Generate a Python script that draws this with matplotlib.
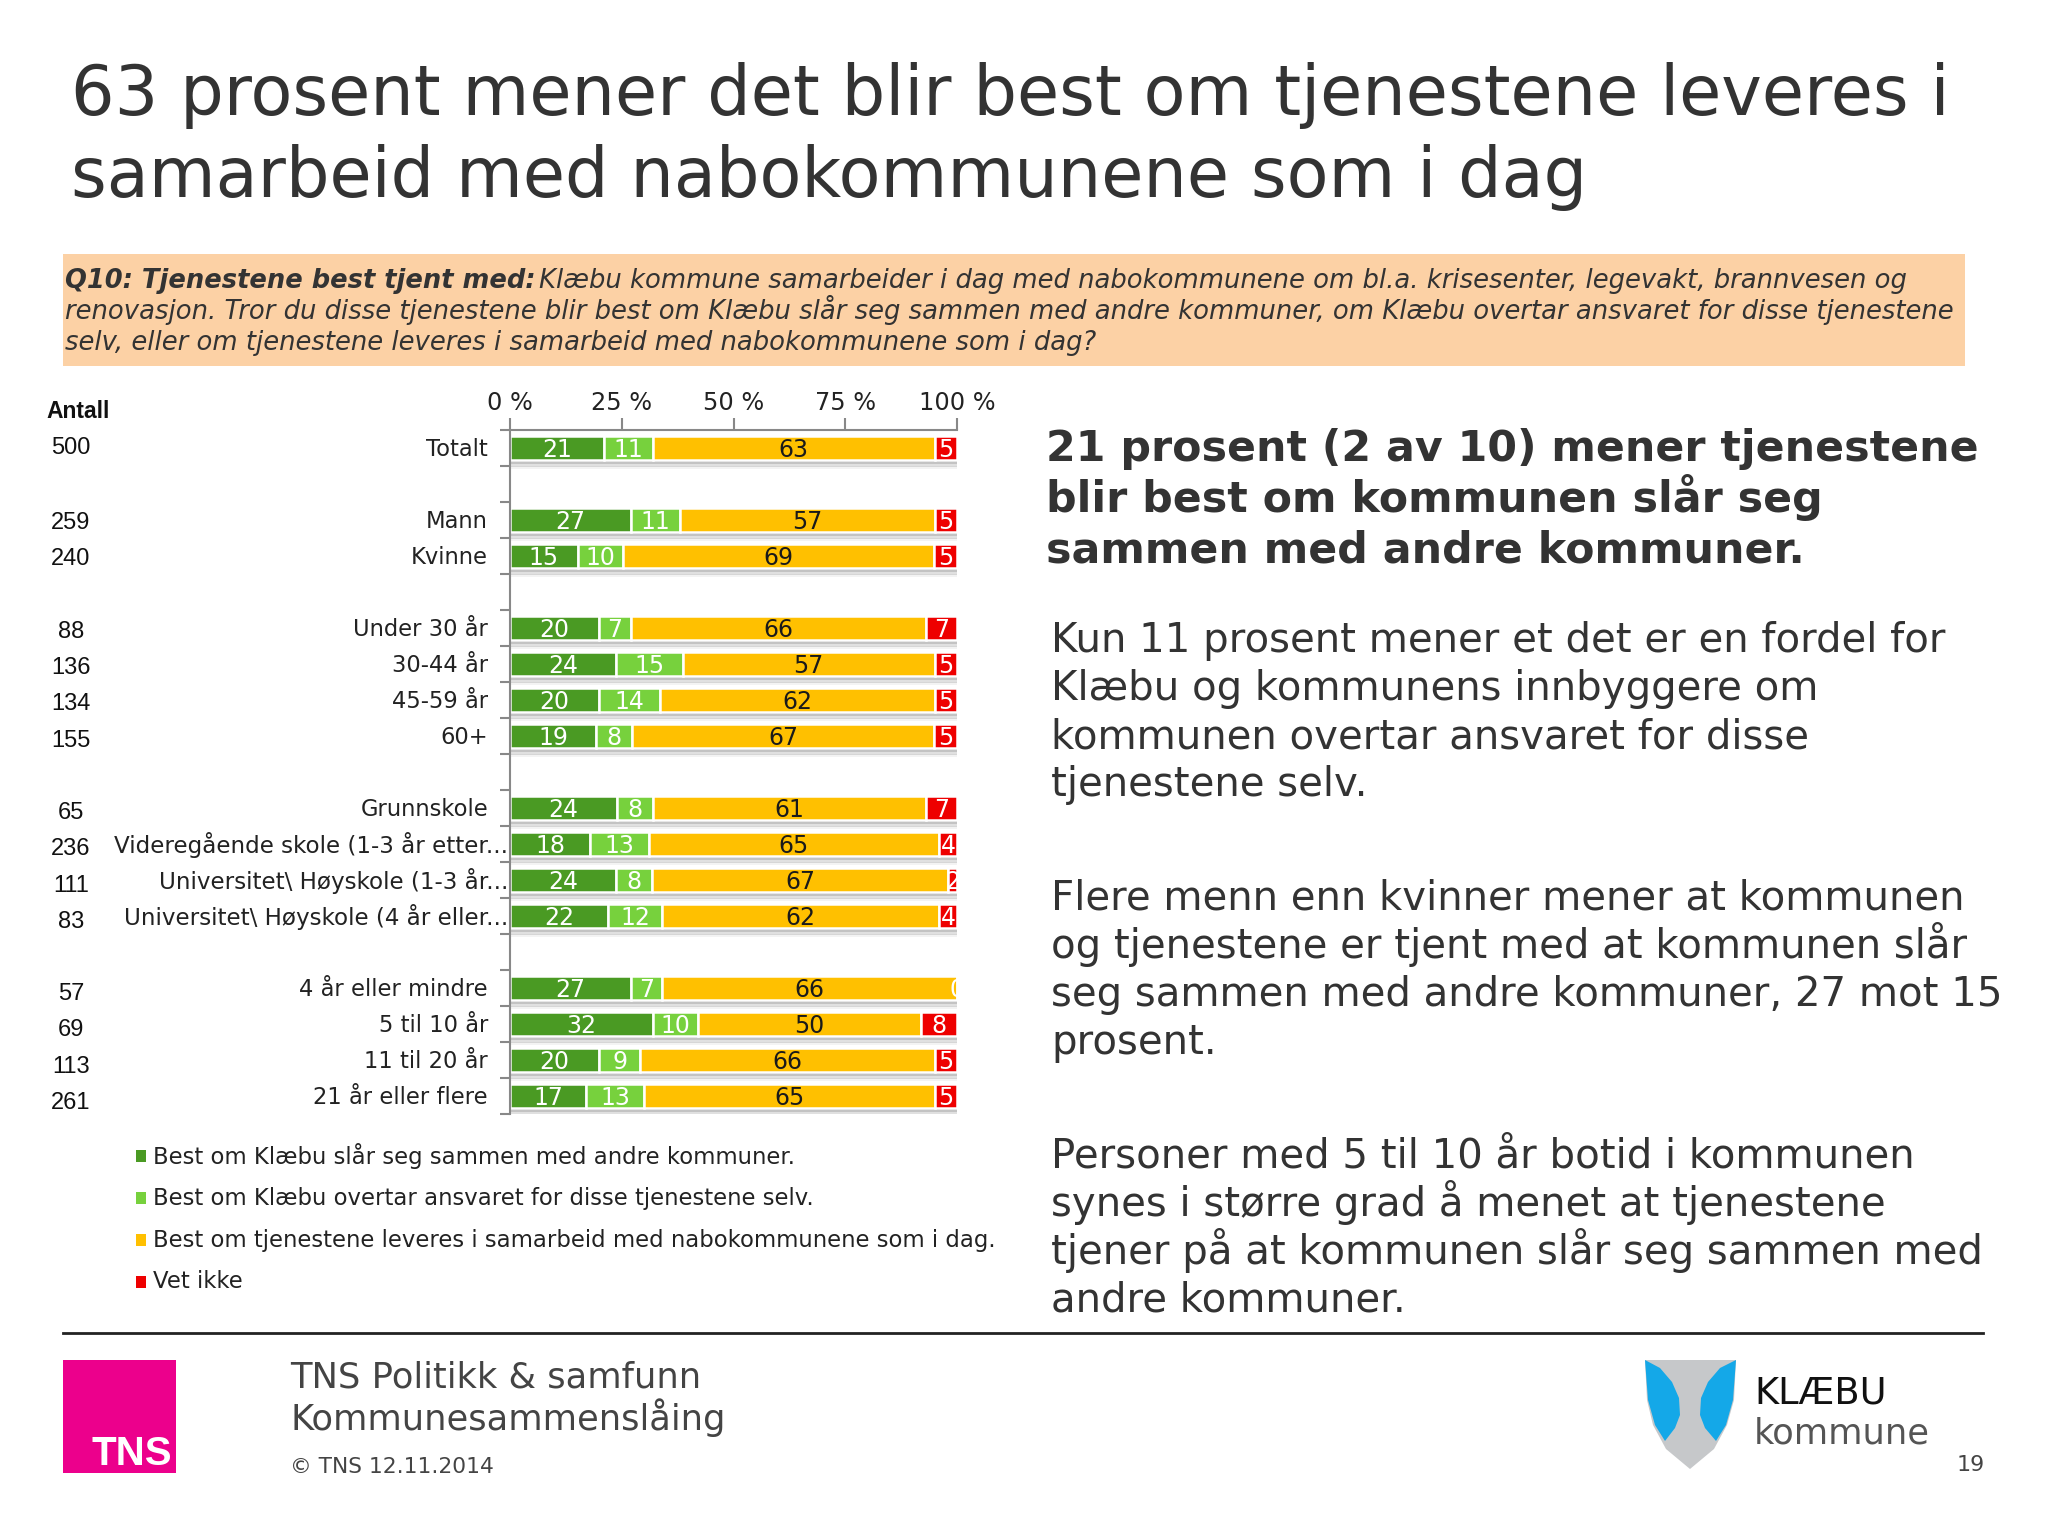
import matplotlib
matplotlib.use("Agg")
import matplotlib.pyplot as plt
import numpy as np
from matplotlib.patches import Polygon, Rectangle

plt.rcParams['font.family'] = ['DejaVu Sans']

W, H = 2048, 1536

categories = ['Totalt', '', 'Mann', 'Kvinne', '', 'Under 30 år', '30-44 år', '45-59 år', '60+', '',
              'Grunnskole', 'Videregående skole (1-3 år etter...', 'Universitet\\ Høyskole (1-3 år...',
              'Universitet\\ Høyskole (4 år eller...', '', '4 år eller mindre', '5 til 10 år',
              '11 til 20 år', '21 år eller flere']
antall = ['500', '', '259', '240', '', '88', '136', '134', '155', '', '65', '236', '111', '83', '',
          '57', '69', '113', '261']
slaar_sammen = [21, 0, 27, 15, 0, 20, 24, 20, 19, 0, 24, 18, 24, 22, 0, 27, 32, 20, 17]
overtar = [11, 0, 11, 10, 0, 7, 15, 14, 8, 0, 8, 13, 8, 12, 0, 7, 10, 9, 13]
samarbeid = [63, 0, 57, 69, 0, 66, 57, 62, 67, 0, 61, 65, 67, 62, 0, 66, 50, 66, 65]
vet_ikke = [5, 0, 5, 5, 0, 7, 5, 5, 5, 0, 7, 4, 2, 4, 0, 0, 8, 5, 5]

series_names = ['Best om Klæbu slår seg sammen med andre kommuner.',
                'Best om Klæbu overtar ansvaret for disse tjenestene selv.',
                'Best om tjenestene leveres i samarbeid med nabokommunene som i dag.',
                'Vet ikke']
colors = ['#4A9A23', '#77D13D', '#FFC000', '#EE0000']
label_colors = ['white', 'white', '#1a1a1a', 'white']
xticks = [0, 25, 50, 75, 100]

title_lines = ['63 prosent mener det blir best om tjenestene leveres i',
               'samarbeid med nabokommunene som i dag']
q_lead = 'Q10: Tjenestene best tjent med:'
q_lines = ['Klæbu kommune samarbeider i dag med nabokommunene om bl.a. krisesenter, legevakt, brannvesen og',
           'renovasjon. Tror du disse tjenestene blir best om Klæbu slår seg sammen med andre kommuner, om Klæbu overtar ansvaret for disse tjenestene',
           'selv, eller om tjenestene leveres i samarbeid med nabokommunene som i dag?']
head_lines = ['21 prosent (2 av 10) mener tjenestene', 'blir best om kommunen slår seg',
              'sammen med andre kommuner.']
body_blocks = [(652, ['Kun 11 prosent mener et det er en fordel for', 'Klæbu og kommunens innbyggere om',
                      'kommunen overtar ansvaret for disse', 'tjenestene selv.']),
               (910, ['Flere menn enn kvinner mener at kommunen', 'og tjenestene er tjent med at kommunen slår',
                      'seg sammen med andre kommuner, 27 mot 15', 'prosent.']),
               (1168, ['Personer med 5 til 10 år botid i kommunen', 'synes i større grad å menet at tjenestene',
                       'tjener på at kommunen slår seg sammen med', 'andre kommuner.'])]


def px(x, y):
    return x / W, 1 - y / H


def put(x, y, s, **kw):
    kw.setdefault('va', 'baseline')
    return fig.text(*px(x, y), s, **kw)


fig = plt.figure(figsize=(W / 100, H / 100), dpi=100, facecolor='white')

# background layer in pixel coordinates, for box, rule and logos
bg = fig.add_axes([0, 0, 1, 1], zorder=0)
bg.set_xlim(0, W)
bg.set_ylim(H, 0)
bg.axis('off')
bg.add_patch(Rectangle((63, 254), 1902, 112, fc='#FCD1A5', ec='none'))
bg.plot([63, 1983], [1333, 1333], color='#222222', lw=2)
bg.add_patch(Rectangle((63, 1360), 113, 113, fc='#EC008C', ec='none'))
# Klaebu shield
bg.add_patch(Polygon([(1645, 1360), (1736, 1360), (1734, 1400), (1727, 1425), (1714, 1449), (1690, 1469),
                      (1666, 1449), (1653, 1425), (1647, 1400)], fc='#C6C8CA', ec='none'))
bg.add_patch(Polygon([(1645, 1360), (1660, 1368), (1672, 1382), (1679, 1398), (1680, 1415), (1675, 1428),
                      (1665, 1441), (1655, 1425), (1648, 1400)], fc='#14A8E8', ec='none'))
bg.add_patch(Polygon([(1736, 1360), (1720, 1368), (1708, 1382), (1701, 1398), (1700, 1415), (1705, 1428),
                      (1716, 1441), (1726, 1425), (1733, 1400)], fc='#14A8E8', ec='none'))

# title and question
for i, line in enumerate(title_lines):
    put(71, 115 + i * 82, line, fontsize=49.4, color='#333333')
put(65, 288, q_lead, fontsize=18.5, style='italic', weight='bold', color='#333333')
for i, line in enumerate(q_lines):
    put(539 if i == 0 else 65, 288 + i * 31, line, fontsize=18.6, style='italic', color='#333333')

# chart
ax = fig.add_axes([510 / W, 1 - 1114 / H, (957 - 510) / W, (1114 - 430) / H], zorder=2)
y = np.arange(len(categories))
values = np.array([slaar_sammen, overtar, samarbeid, vet_ikke], dtype=float)
totals = values.sum(axis=0)
totals[totals == 0] = 1
shares = values / totals * 100
left = np.zeros(len(categories))
used = totals > 1
# soft shadow under the bars
for off, alpha in [(0.36, 0.55), (0.42, 0.35), (0.48, 0.18), (0.54, 0.07)]:
    ax.barh(y[used] + off, np.full(used.sum(), 100), height=0.07, color='#555555', alpha=alpha, lw=0, zorder=1)
for values_row, share, color, tc in zip(values, shares, colors, label_colors):
    ax.barh(y[used], share[used], left=left[used], height=0.66, color=color, edgecolor='white', lw=1.8, zorder=2,
            clip_on=False)
    for yi in y[used]:
        ax.text(left[yi] + share[yi] / 2, yi + 0.06, '%d' % values_row[yi], ha='center', va='center',
                color=tc, fontsize=17, zorder=3, clip_on=True)
    left += share
ax.set_xlim(0, 100)
ax.set_ylim(len(categories) - 0.5, -0.5)
ax.xaxis.tick_top()
ax.set_xticks(xticks)
ax.set_xticklabels(['%d %%' % t for t in xticks], fontsize=17.3, color='#222222')
ax.set_yticks(np.arange(len(categories) + 1) - 0.5)
ax.set_yticklabels([])
ax.tick_params(axis='x', length=9, width=1.5, color='#888888', pad=2)
ax.tick_params(axis='y', length=7, width=1.5, color='#888888', direction='out')
for s in ['right', 'bottom']:
    ax.spines[s].set_visible(False)
for s in ['left', 'top']:
    ax.spines[s].set_color('#888888')
    ax.spines[s].set_linewidth(1.5)
ax.patch.set_alpha(0)

for yi, (cat, n) in enumerate(zip(categories, antall)):
    if cat:
        yc = 449.5 + yi * 36
        cut = cat.endswith('...')
        fig.text(*px(508 if cut else 488, yc), cat, fontsize=16.6 if cut else 16.3, ha='right', va='center',
                 color='#222222')
        yn = 523 + (yi - 2) * 36.25 - (3 if yi == 0 else 0)
        fig.text(*px(71, yn), n, fontsize=17, family=['Liberation Sans'], ha='center', va='center', color='#111111')
fig.text(*px(78, 411), 'Antall', fontsize=16.5, family=['Liberation Sans'], weight='bold', ha='center', va='center',
         color='#111111')

# legend
for i, (name, color) in enumerate(zip(series_names, colors)):
    yc = 1156 + i * 42
    bg.add_patch(Rectangle((136, yc - 6), 10, 12, fc=color, ec='none'))
    fig.text(*px(153, yc), name, fontsize=16.4, va='center', color='#222222')

# right text
for i, line in enumerate(head_lines):
    put(1046, 461 + i * 50.8, line, fontsize=30.8, weight='bold', color='#333333')
for top, lines in body_blocks:
    for i, line in enumerate(lines):
        put(1051, top + i * 48, line, fontsize=29, color='#333333')

# footer
put(290, 1387, 'TNS Politikk & samfunn', fontsize=25.4, color='#444444')
put(290, 1430, 'Kommunesammenslåing', fontsize=25.4, color='#444444')
put(290, 1473, '© TNS 12.11.2014', fontsize=15.7, color='#444444')
put(91, 1465, 'TNS', fontsize=29, color='white', family=['Liberation Sans'], weight='bold')
put(1754, 1403, 'KLÆBU', fontsize=26.5, color='#111111')
put(1754, 1444, 'kommune', fontsize=25.4, color='#555555')
put(1985, 1471, '19', fontsize=16, color='#444444', ha='right')

fig.savefig('out.png', dpi=100)
